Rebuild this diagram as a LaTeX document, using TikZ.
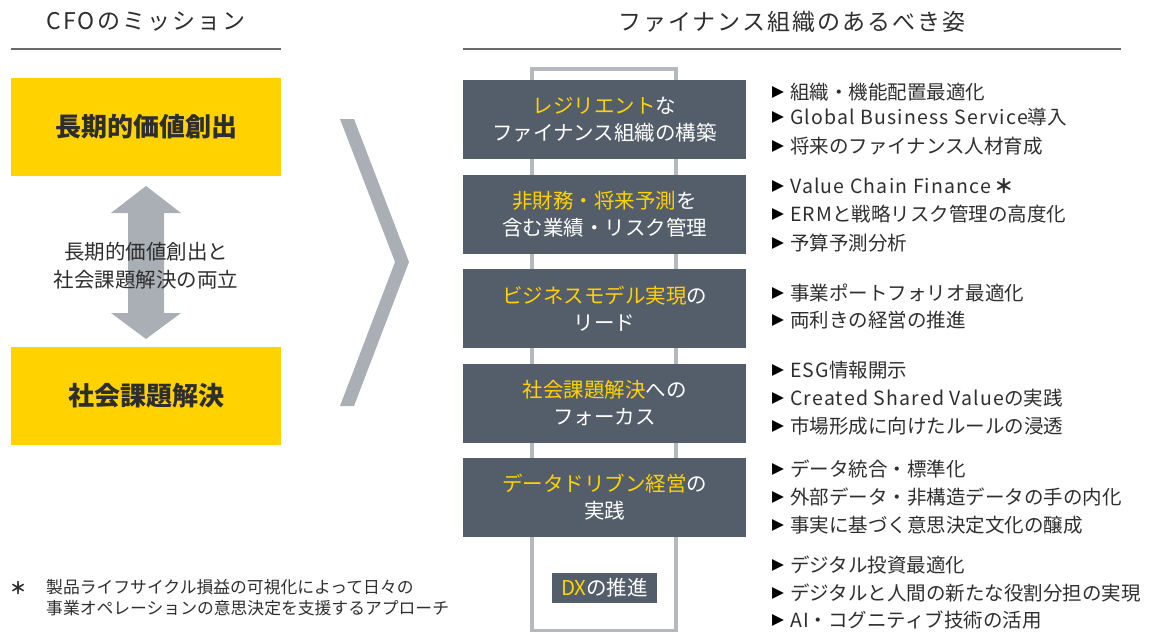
\documentclass[tikz,border=0pt]{standalone}
\usepackage{fontspec}
\setmainfont{Noto Sans CJK JP}
\newfontfamily\symf{DejaVu Sans}
\newfontfamily\latf[LetterSpace=6]{Noto Sans CJK JP}
\newfontfamily\titlef[LetterSpace=9]{Noto Sans CJK JP}
\definecolor{eyy}{HTML}{FFD200}
\definecolor{boxg}{HTML}{545E6A}
\definecolor{lg}{HTML}{A9AFB5}
\definecolor{txt}{HTML}{2E2E2E}
\definecolor{framec}{HTML}{B4B9BE}
\definecolor{rule}{HTML}{6A6A6A}
\tikzset{
  ybox/.style={fill=eyy, draw=none, minimum width=270pt, minimum height=98pt, inner sep=0pt, text=txt, font=\fontsize{26}{30}\selectfont\bfseries},
  dbox/.style={fill=boxg, draw=none, minimum width=283pt, minimum height=79pt, inner sep=0pt, text=white, align=center, font=\fontsize{20.5}{27}\selectfont},
  title/.style={text=txt, font=\titlef\fontsize{23}{26}\selectfont, inner sep=0pt},
  bullet/.style={text=txt, anchor=west, inner sep=0pt, font=\fontsize{19.5}{22}\selectfont},
  tri/.style={text=black, inner sep=0pt, font=\symf\fontsize{15.5}{16}\selectfont}
}
\newcommand{\hy}[1]{\textcolor{eyy}{#1}}
\newcommand{\la}[1]{{\latf #1}}
\begin{document}
\begin{tikzpicture}[x=1pt,y=-1pt]
\useasboundingbox (0,0) rectangle (1157,632);
% titles
\node[title] (t1) at (146,22) {CFOのミッション};
\draw[rule, line width=1.5pt] (11,49) -- (281,49);
\node[title] (t2) at (792,22) {ファイナンス組織のあるべき姿};
\draw[rule, line width=1.5pt] (463,49) -- (1121,49);
% left
\node[ybox] (y1) at (146,127) {長期的価値創出};
\node[ybox] (y2) at (146,396) {社会課題解決};
\fill[lg] (146,186) -- (181,213) -- (164,213) -- (164,313) -- (181,313) -- (146,339)
  -- (111,313) -- (128,313) -- (128,213) -- (111,213) -- cycle;
\node[text=txt, align=center, inner sep=0pt, font=\fontsize{20.5}{28}\selectfont] (mid) at (146,266) {長期的価値創出と\\社会課題解決の両立};
% chevron
\fill[lg] (340,119) -- (354,119) -- (409,262) -- (354,406) -- (340,406) -- (395,262) -- cycle;
% footnote
\node[text=txt, inner sep=0pt, font=\fontsize{17}{21}\selectfont\bfseries] (fstar) at (18,588) {＊};
\node[text=txt, anchor=west, align=left, inner sep=0pt, font=\fontsize{16.8}{21}\selectfont] (fn) at (46,598) {製品ライフサイクル損益の可視化によって日々の\\事業オペレーションの意思決定を支援するアプローチ};
% frame
\draw[framec, line width=3.5pt] (532,69) rectangle (676,631);
% dark boxes
\node[dbox] (d1) at (604.5,119.5) {\hy{レジリエント}な\\ファイナンス組織の構築};
\node[dbox] (d2) at (604.5,214) {\hy{非財務・将来予測}を\\含む業績・リスク管理};
\node[dbox] (d3) at (604.5,308.5) {\hy{ビジネスモデル実現}の\\リード};
\node[dbox] (d4) at (604.5,403.5) {\hy{社会課題解決}への\\フォーカス};
\node[dbox] (d5) at (604.5,497.5) {\hy{データドリブン経営}の\\実践};
\node[dbox, minimum width=105pt, minimum height=30pt] (d6) at (604.5,588) {\hy{DX}の推進};
% bullets
\foreach \yy/\tx [count=\i] in {
  92/{組織・機能配置最適化},
  117/{\la{Global Business Service}導入},
  146/{将来のファイナンス人材育成},
  186/{\la{Value Chain Finance}\,{\bfseries ＊}},
  214/{\la{ERM}と戦略リスク管理の高度化},
  243/{予算予測分析},
  293/{事業ポートフォリオ最適化},
  320/{両利きの経営の推進},
  370/{\la{ESG}情報開示},
  398/{\la{Created Shared Value}の実践},
  426/{市場形成に向けたルールの浸透},
  469/{データ統合・標準化},
  497/{外部データ・非構造データの手の内化},
  525/{事実に基づく意思決定文化の醸成},
  565/{デジタル投資最適化},
  593/{デジタルと人間の新たな役割分担の実現},
  620/{\la{AI}・コグニティブ技術の活用}}{
  \node[tri] (m\i) at (778,\yy) {▶};
  \node[bullet] (b\i) at (790,\yy) {\tx};
}
\end{tikzpicture}
\end{document}
